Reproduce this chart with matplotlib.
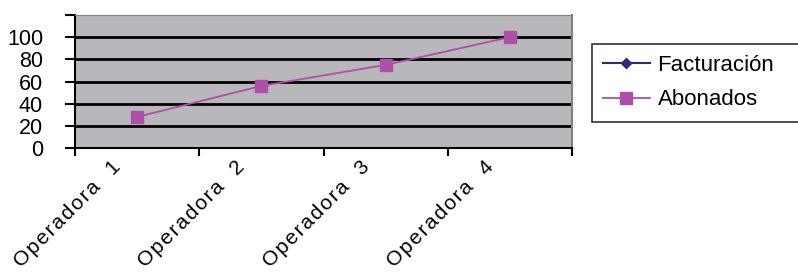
import numpy as np
import matplotlib.pyplot as plt
from matplotlib.transforms import offset_copy

categories = ["Operadora 1", "Operadora 2", "Operadora 3", "Operadora 4"]
facturacion = [np.nan, np.nan, np.nan, np.nan]
abonados = [28, 56, 75, 100]
y_ticks = [0, 20, 40, 60, 80, 100, 120]
y_labels = ["0", "20", "40", "60", "80", "100", ""]

plt.rcParams['font.family'] = ['Liberation Sans', 'DejaVu Sans']

W, H = 798, 274
fig = plt.figure(figsize=(W / 100, H / 100), dpi=100)
ax = fig.add_axes([75 / W, 1 - 148 / H, (572 - 75) / W, (148 - 15) / H])
ax.set_facecolor("#B8B8BC")

x = np.arange(len(categories))
ax.plot(x, facturacion, color="#2B2A7C", marker="D", markersize=5, lw=1.5, label="Facturación")
ax.plot(x, abonados, color="#B04FA8", marker="s", markersize=9, lw=1.3, label="Abonados")

ax.set_xlim(-0.5, len(categories) - 0.5)
ax.set_ylim(0, 120)
ax.set_yticks(y_ticks)
ax.set_yticklabels(y_labels, fontsize=15.5)
for v in y_ticks[1:-1]:
    ax.axhline(v, color="black", lw=2, zorder=1)

ax.set_xticks(x)
ax.set_xticklabels([])
ax.tick_params(axis="x", which="major", length=0)
ax.set_xticks(np.arange(-0.5, len(categories)), minor=True)
ax.tick_params(axis="x", which="minor", direction="out", length=6, width=1.5, color="black")
ax.tick_params(axis="y", direction="out", length=7, width=1.5, color="black", pad=16)

# spread the letters a little, like the original tracking
spread = lambda s: "\u200a".join(s.replace(" ", "  "))
trans = offset_copy(ax.transData, fig=fig, x=-26, y=-9, units="dots")
for xi, lab in zip(x, categories):
    ax.text(xi, 0, spread(lab), transform=trans, rotation=45, ha="right", va="top",
            rotation_mode="anchor", fontsize=15)

for s in ["left", "bottom"]:
    ax.spines[s].set_color("black")
    ax.spines[s].set_linewidth(1.5)
ax.spines["top"].set_color("#808080")
ax.spines["right"].set_color("#808080")
ax.spines["right"].set_linewidth(1.5)

leg = fig.legend(loc="upper left", bbox_to_anchor=(592 / W, 0, 215 / W, 1 - 44 / H),
                 mode="expand", fontsize=16, frameon=True, fancybox=False, edgecolor="black",
                 handlelength=2.1, borderpad=0.5, labelspacing=0.6, handletextpad=0.35,
                 borderaxespad=0)
leg.get_frame().set_linewidth(1.2)

fig.savefig("out.png", dpi=100)
